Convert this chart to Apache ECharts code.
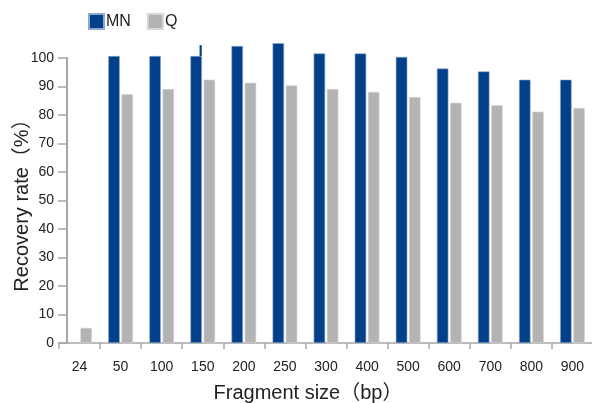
<!DOCTYPE html>
<html>
<head>
<meta charset="utf-8">
<script src="https://cdn.jsdelivr.net/npm/echarts@6/dist/echarts.min.js"></script>
<style>
  html, body { margin: 0; padding: 0; background: #fff; }
  #chart { width: 592px; height: 403px; }
</style>
</head>
<body>
<div id="chart"></div>
<script>
const categories = ['24', '50', '100', '150', '200', '250', '300', '400', '500', '600', '700', '800', '900'];
const mnValues = [null, 100.7, 100.7, 100.7, 104.2, 105.2, 101.6, 101.6, 100.4, 96.3, 95.3, 92.4, 92.4];
const qValues = [5.3, 87.3, 89.1, 92.4, 91.3, 90.4, 89.1, 88.1, 86.3, 84.3, 83.4, 81.2, 82.5];
// thin spike seen on the 150 bp MN bar: [category index, from, to]
const mnSpike = [[3, 100.7, 104.5]];
const yTicks = [0, 10, 20, 30, 40, 50, 60, 70, 80, 90, 100];

const FONT = '"Liberation Sans", Arial, "Noto Sans CJK SC", sans-serif';
const chart = echarts.init(document.getElementById('chart'), null, { renderer: 'canvas' });

chart.setOption({
  animation: false,
  textStyle: { fontFamily: FONT },
  legend: {
    data: ['MN', 'Q'],
    left: 83,
    top: 8,
    icon: 'rect',
    itemWidth: 15,
    itemHeight: 15,
    itemGap: 16,
    textStyle: { fontSize: 16, color: '#222', fontFamily: FONT, padding: [0, 0, 0, -3] }
  },
  grid: { left: 59, right: -1, top: 58, bottom: 60, containLabel: false, outerBoundsMode: 'none' },
  xAxis: {
    type: 'category',
    data: categories,
    name: 'Fragment size（bp）',
    nameLocation: 'middle',
    nameGap: 40,
    nameTextStyle: { fontSize: 20, color: '#222', fontFamily: FONT, padding: [0, 36, 0, 0] },
    axisLine: { lineStyle: { color: '#a6a6a6', width: 1.5 } },
    axisTick: { show: true, length: 6, lineStyle: { color: '#a6a6a6', width: 1.5 } },
    axisLabel: { fontSize: 14, color: '#222', margin: 17, fontFamily: FONT }
  },
  yAxis: {
    type: 'value',
    min: 0,
    max: 100,
    interval: 10,
    offset: -8,
    name: 'Recovery rate（%）',
    nameLocation: 'middle',
    nameGap: 35,
    nameMoveOverlap: false,
    nameRotate: 90,
    nameTextStyle: { fontSize: 20, color: '#222', fontFamily: FONT },
    axisLine: { show: true, lineStyle: { color: '#a6a6a6', width: 2 } },
    axisTick: { show: true, length: 9, lineStyle: { color: '#a6a6a6', width: 1.5 } },
    axisLabel: {
      fontSize: 14, color: '#222', margin: 13, fontFamily: FONT,
      formatter: v => (yTicks.indexOf(v) >= 0 ? String(v) : '')
    },
    splitLine: { show: false }
  },
  series: [
    {
      name: 'MN',
      type: 'bar',
      data: mnValues,
      barWidth: 11.5,
      barGap: '15%',
      clip: false,
      itemStyle: { color: '#03408a', borderColor: '#8fa8cc', borderWidth: 0.6 }
    },
    {
      name: 'Q',
      type: 'bar',
      data: qValues,
      barWidth: 11.5,
      clip: false,
      itemStyle: { color: '#b3b3b3', borderColor: '#d6d6d6', borderWidth: 0.6 }
    },
    {
      name: 'spike',
      type: 'custom',
      clip: false,
      data: mnSpike,
      renderItem: function (params, api) {
        const top = api.coord([api.value(0), api.value(2)]);
        const bot = api.coord([api.value(0), api.value(1)]);
        return {
          type: 'rect',
          shape: { x: top[0] - 3.2, y: top[1], width: 2.2, height: bot[1] - top[1] },
          style: { fill: '#03408a' }
        };
      }
    }
  ]
});
</script>
</body>
</html>
